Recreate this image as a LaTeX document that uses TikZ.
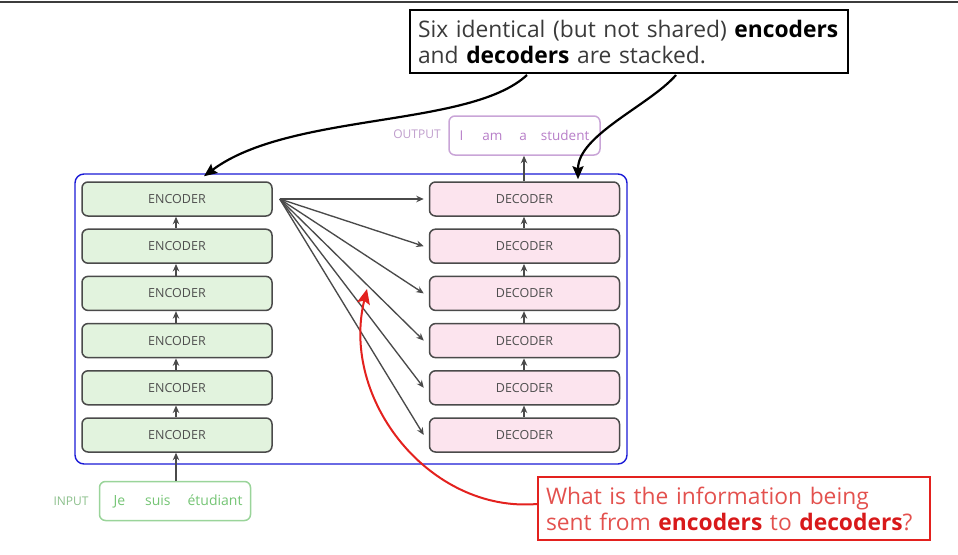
\documentclass[tikz,border=0pt]{standalone}
\usepackage{fontspec}
\setmainfont{Open Sans}
\usetikzlibrary{arrows.meta}

\definecolor{encfill}{HTML}{E2F3DE}
\definecolor{decfill}{HTML}{FCE4EE}
\definecolor{boxline}{HTML}{4A4A4A}
\definecolor{boxtext}{HTML}{4E4E4E}
\definecolor{frameblue}{HTML}{1A1AD6}
\definecolor{outline}{HTML}{C9A5D7}
\definecolor{outtext}{HTML}{B77EC8}
\definecolor{inline}{HTML}{9AD49A}
\definecolor{intext}{HTML}{74C474}
\definecolor{notered}{HTML}{E3211E}
\definecolor{redtext}{HTML}{E3514E}
\definecolor{redbold}{HTML}{D8191A}
\definecolor{notetext}{HTML}{3A3A3A}
\definecolor{rulegray}{HTML}{3C3C3C}

\begin{document}
\begin{tikzpicture}[x=1pt,y=-1pt,
  stackbox/.style={draw=boxline, line width=1.5pt, rounded corners=6pt,
    minimum width=190pt, minimum height=34pt, inner sep=0pt,
    font=\fontsize{12.5}{14}\selectfont, text=boxtext},
  encbox/.style={stackbox, fill=encfill},
  decbox/.style={stackbox, fill=decfill},
  frame/.style={draw=frameblue, line width=1.4pt, rounded corners=9pt,
    minimum width=552pt, minimum height=290pt, inner sep=0pt},
  wordbox/.style={line width=1.5pt, rounded corners=6pt, inner sep=0pt,
    minimum width=151pt, minimum height=39pt, font=\fontsize{14}{16}\selectfont},
  sidelabel/.style={font=\fontsize{12}{14}\selectfont, inner sep=0pt},
  flow/.style={draw=boxline, line width=1.35pt, -{Stealth[length=7.5pt,width=6.5pt]}},
  notebox/.style={draw=black, line width=2pt, minimum width=438pt, minimum height=63pt,
    text width=422pt, inner xsep=8pt, inner ysep=0pt, align=left,
    font=\fontsize{22.8}{26}\selectfont, text=notetext},
  questionbox/.style={draw=notered, line width=1.8pt, minimum width=392pt, minimum height=63pt,
    text width=376pt, inner xsep=8pt, inner ysep=0pt, align=left,
    font=\fontsize{22.8}{26}\selectfont, text=redtext},
  callout/.style={line width=2.2pt, -{Stealth[length=13pt,width=11pt,inset=2pt]}},
  redcallout/.style={draw=notered, line width=2pt, -{Stealth[length=15pt,width=13pt,inset=3pt]}}
]
\useasboundingbox (0,0) rectangle (958,554);

% top rule
\draw[rulegray, line width=2pt] (0,1.5) -- (958,1.5);

% frame around both stacks
\node[frame] (stack) at (351,319) {};

% encoder and decoder stacks
\foreach \i in {1,...,6} {
  \node[encbox] (enc\i) at (177,{199+(\i-1)*47.2}) {ENCODER};
  \node[decbox] (dec\i) at (524.5,{199+(\i-1)*47.2}) {DECODER};
}
\foreach \i [evaluate=\i as \j using int(\i+1)] in {1,...,5} {
  \draw[flow] ([xshift=-1pt]enc\j.north) -- ([xshift=-1pt]enc\i.south);
  \draw[flow] ([xshift=-0.5pt]dec\j.north) -- ([xshift=-0.5pt]dec\i.south);
}

% input sentence
\node[wordbox, draw=inline, text=intext] (input) at (175,501)
  {\hspace{6pt}Je\hspace{20pt}suis\hspace{17pt}étudiant};
\node[sidelabel, text=inline!90!black] (inlabel) at (71,501) {INPUT};
\draw[flow] ([xshift=1pt]input.north) -- ([xshift=-1pt]enc6.south);

% output sentence
\node[wordbox, draw=outline, text=outtext, font=\fontsize{13.5}{15}\selectfont] (output) at (524.5,135.5)
  {I\hspace{19pt}am\hspace{17pt}a\hspace{14pt}student};
\node[sidelabel, text=outline!95!black] (outlabel) at (417,134) {OUTPUT};
\draw[flow] ([xshift=-0.5pt]dec1.north) -- ([xshift=-0.5pt]output.south);

% encoder output fanned out to every decoder
\coordinate (fan) at ([xshift=7pt]enc1.east);
\foreach \i in {1,...,6} {
  \draw[flow] (fan) -- ([xshift=-5pt]dec\i.west);
}

% note on the stacks
\node[notebox] (stacked) at (629,41.5)
  {Six identical (but not shared) \textbf{\color{black}encoders}\\
   and \textbf{\color{black}decoders} are stacked.};
\draw[callout] ([xshift=-102pt,yshift=-1pt]stacked.south)
  .. controls (470,128) and (290,112) .. ([xshift=27pt,yshift=5pt]enc1.north);
\draw[callout] ([xshift=47pt,yshift=-1pt]stacked.south)
  .. controls (650,105) and (578,135) .. ([xshift=53.5pt,yshift=2pt]dec1.north);

% question about the encoder-decoder link
\node[questionbox] (question) at (734,508.5)
  {What is the information being\\
   sent from \textbf{\color{redbold}encoders} to \textbf{\color{redbold}decoders}?};
\coordinate (fanmid) at (367,289);
\draw[redcallout] ([yshift=4.5pt]question.west)
  .. controls (430,513) and (340,400) .. (fanmid);
\end{tikzpicture}
\end{document}
